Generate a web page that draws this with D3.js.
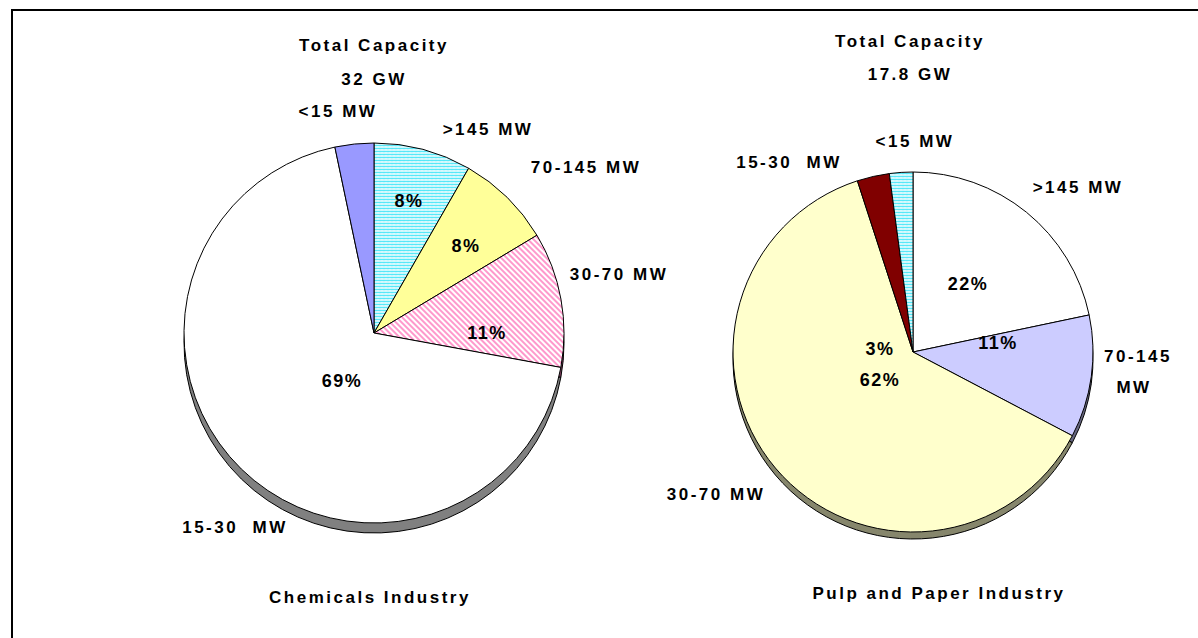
<!DOCTYPE html>
<html>
<head>
<meta charset="utf-8">
<script src="https://cdn.jsdelivr.net/npm/d3@7"></script>
<style>
  body { margin: 0; background: #fff; }
  text { font-family: Arial, "Liberation Sans", sans-serif; font-weight: bold; font-size: 17px; fill: #000; white-space: pre; }
  .cat { letter-spacing: 2.5px; }
  .pct { font-size: 18px; letter-spacing: 1.5px; }
</style>
</head>
<body>
<svg id="chart" width="1198" height="638"></svg>
<script>
(function (d3) {
  'use strict';

  // size classes, clockwise from 12 o'clock
  const sizeClasses = ['>145 MW', '70-145 MW', '30-70 MW', '15-30  MW', '<15 MW'];

  // Chemicals Industry (32 GW)
  const chemShares = [8.3, 8.1, 11.5, 68.8, 3.3];
  const chemPctText = ['8%', '8%', '11%', '69%', ''];

  // Pulp and Paper Industry (17.8 GW)
  const paperShares = [21.7, 11.0, 62.3, 2.9, 2.1];
  const paperPctText = ['22%', '11%', '62%', '3%', ''];

  const totals = ['32 GW', '17.8 GW'];
  const industries = ['Chemicals Industry', 'Pulp and Paper Industry'];

  const svg = d3.select('#chart');
  const defs = svg.append('defs');

  // cyan zigzag fill
  const zig = defs.append('pattern')
    .attr('id', 'zigzag')
    .attr('patternUnits', 'userSpaceOnUse')
    .attr('width', 4).attr('height', 3);
  zig.append('rect').attr('width', 4).attr('height', 3).attr('fill', '#fff');
  zig.append('path')
    .attr('d', 'M0,2 L1,1 L2,2 L3,1 L4,2')
    .attr('fill', 'none').attr('stroke', '#55e8f8').attr('stroke-width', 1.1);

  // pink diagonal hatch
  const hatch = defs.append('pattern')
    .attr('id', 'hatch')
    .attr('patternUnits', 'userSpaceOnUse')
    .attr('width', 4).attr('height', 4)
    .attr('patternTransform', 'rotate(45)');
  hatch.append('rect').attr('width', 4).attr('height', 4).attr('fill', '#fff');
  hatch.append('rect').attr('width', 4).attr('height', 2).attr('fill', '#ff99cc');

  // outer frame, running off the right and bottom edges
  svg.append('rect')
    .attr('x', 12).attr('y', 10)
    .attr('width', 1300).attr('height', 800)
    .attr('fill', 'none').attr('stroke', '#000').attr('stroke-width', 2);

  const pies = [
    {
      shares: chemShares,
      pct: chemPctText,
      cx: 374, cy: 333, r: 190, depth: 10,
      fills: ['url(#zigzag)', '#ffff99', 'url(#hatch)', '#ffffff', '#9999ff'],
      sides: ['#338080', '#808040', '#804060', '#808080', '#4d4d80'],
      catPos: [[114, -204], [212, -166], [245, -59], [-139, 194], [-36, -222]],
      catLines: [null, null, null, null, null],
      pctPos: [[35, -132], [92, -87], [113, 0], [-32, 48], null],
      titleX: 374, titleY: 45, totalY: 79,
      nameX: 370, nameY: 597
    },
    {
      shares: paperShares,
      pct: paperPctText,
      cx: 913, cy: 352, r: 180, depth: 7,
      fills: ['#ffffff', '#ccccff', '#ffffcc', '#800000', 'url(#zigzag)'],
      sides: ['#808080', '#666680', '#86866c', '#400000', '#338080'],
      catPos: [[165, -165], [225, 4], [-197, 142], [-124, -190], [2, -211]],
      catLines: [null, ['70-145', 'MW'], null, null, null],
      pctPos: [[55, -68], [85, -9], [-33, 28], [-33, -3], null],
      titleX: 910, titleY: 41, totalY: 74,
      nameX: 939, nameY: 593
    }
  ];

  const pie = d3.pie().sort(null).value((d) => d);

  pies.forEach((p, k) => {
    const arcs = pie(p.shares);
    const arc = d3.arc().innerRadius(0).outerRadius(p.r);
    const g = svg.append('g');

    // side of the 3D disc
    g.append('g')
      .attr('transform', `translate(${p.cx},${p.cy + p.depth})`)
      .selectAll('path')
      .data(arcs)
      .enter()
      .append('path')
      .attr('d', arc)
      .attr('fill', (d, i) => p.sides[i])
      .attr('stroke', '#000')
      .attr('stroke-width', 1);

    // top face
    g.append('g')
      .attr('transform', `translate(${p.cx},${p.cy})`)
      .selectAll('path')
      .data(arcs)
      .enter()
      .append('path')
      .attr('d', arc)
      .attr('fill', (d, i) => p.fills[i])
      .attr('stroke', '#000')
      .attr('stroke-width', 1)
      .attr('stroke-linejoin', 'round');

    // percentage labels
    g.selectAll('text.pct')
      .data(arcs.filter((d, i) => p.pct[i]))
      .enter()
      .append('text')
      .attr('class', 'pct')
      .attr('text-anchor', 'middle')
      .attr('dominant-baseline', 'central')
      .attr('x', (d) => p.cx + p.pctPos[d.index][0])
      .attr('y', (d) => p.cy + p.pctPos[d.index][1])
      .text((d) => p.pct[d.index]);

    // category labels
    sizeClasses.forEach((name, i) => {
      const lines = p.catLines[i] || [name];
      lines.forEach((line, j) => {
        g.append('text')
          .attr('class', 'cat')
          .attr('text-anchor', 'middle')
          .attr('dominant-baseline', 'central')
          .attr('x', p.cx + p.catPos[i][0] - (j ? 4 : 0))
          .attr('y', p.cy + p.catPos[i][1] + j * 31)
          .text(line);
      });
    });

    // titles
    g.append('text')
      .attr('class', 'cat')
      .attr('text-anchor', 'middle')
      .attr('dominant-baseline', 'central')
      .attr('x', p.titleX).attr('y', p.titleY)
      .text('Total Capacity');
    g.append('text')
      .attr('class', 'cat')
      .attr('text-anchor', 'middle')
      .attr('dominant-baseline', 'central')
      .attr('x', p.titleX).attr('y', p.totalY)
      .text(totals[k]);
    g.append('text')
      .attr('class', 'cat')
      .attr('text-anchor', 'middle')
      .attr('dominant-baseline', 'central')
      .attr('x', p.nameX).attr('y', p.nameY)
      .text(industries[k]);
  });

}(d3));
</script>
</body>
</html>
